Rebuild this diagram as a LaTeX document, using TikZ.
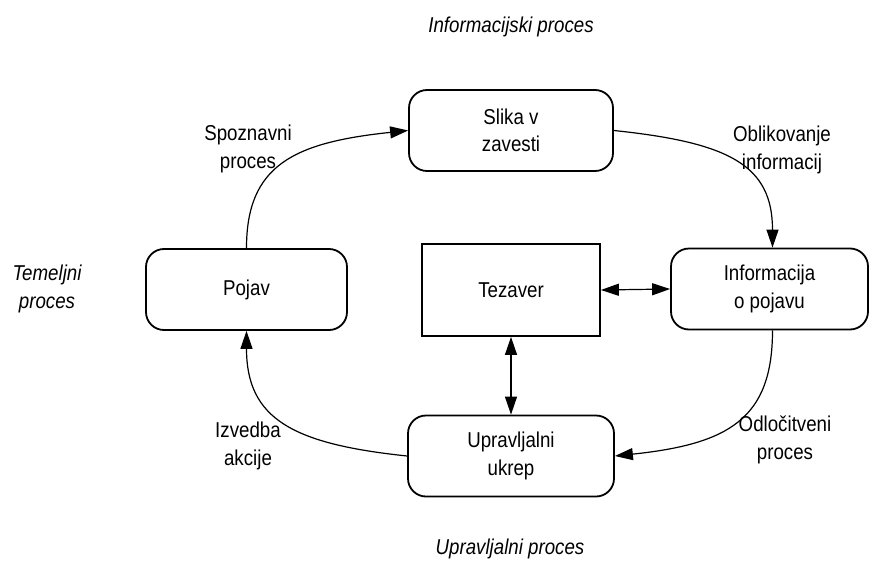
\documentclass[tikz,border=0pt]{standalone}
\usepackage{fontspec}
\setmainfont[FakeStretch=0.87]{Liberation Sans}
\usetikzlibrary{arrows.meta}
\tikzset{
  txt/.style={font=\fontsize{21.5}{27.5}\selectfont, align=center, inner sep=0pt},
  lbl/.style={txt},
  ilbl/.style={txt, font=\fontsize{21.5}{27.5}\selectfont\itshape},
  rbox/.style={txt, draw, line width=1.8pt, rounded corners=18pt, minimum height=81pt},
  sbox/.style={txt, draw, line width=1.8pt},
  conn/.style={line width=1.2pt, -{Triangle[length=18pt,width=12pt]}},
  dconn/.style={line width=1.2pt, {Triangle[length=18pt,width=12pt]}-{Triangle[length=18pt,width=12pt]}}
}
\begin{document}
\begin{tikzpicture}[x=1pt,y=1pt]
\useasboundingbox (0,0) rectangle (870,-562);
% boxes
\node[rbox, minimum width=204pt] (slika) at (511,-130.5) {Slika v\\zavesti};
\node[rbox, minimum width=201pt] (pojav) at (246.5,-289.5) {Pojav};
\node[sbox, minimum width=178pt, minimum height=92pt] (tez) at (511,-290) {Tezaver};
\node[rbox, minimum width=197pt] (info) at (769.5,-289) {Informacija\\o pojavu};
\node[rbox, minimum width=206pt] (upr) at (511,-456) {Upravljalni\\ukrep};
% labels
\node[ilbl] (linf) at (511,-27) {Informacijski proces};
\node[ilbl] (ltem) at (47,-289) {Temeljni\\proces};
\node[ilbl] (lupr) at (510,-549) {Upravljalni proces};
\node[lbl] (lspo) at (248,-149) {Spoznavni\\proces};
\node[lbl] (lobl) at (782,-150) {Oblikovanje\\informacij};
\node[lbl] (lizv) at (248,-446) {Izvedba\\akcije};
\node[lbl] (lodl) at (785,-440) {Odlo\v{c}itveni\\proces};
% connectors
\draw[conn] (pojav.north) to[out=90, in=186, out distance=83pt, in distance=115pt] (slika.west);
\draw[conn] (slika.east) to[out=-6, in=90, out distance=115pt, in distance=83pt] ([xshift=3pt]info.north);
\draw[conn] ([xshift=3pt]info.south) to[out=270, in=6, out distance=88pt, in distance=115pt] (upr.east);
\draw[conn] (upr.west) to[out=174, in=270, out distance=115pt, in distance=88pt] (pojav.south);
\draw[dconn] (tez.east) -- (info.west);
\draw[dconn] (tez.south) -- (upr.north);
\end{tikzpicture}
\end{document}
